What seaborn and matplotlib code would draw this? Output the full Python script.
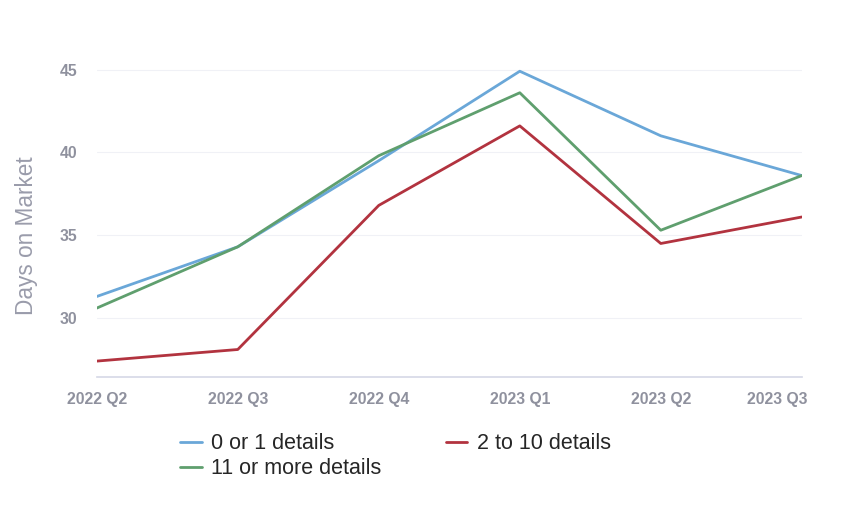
import matplotlib
matplotlib.use("Agg")
import matplotlib.pyplot as plt
import matplotlib.transforms as mtransforms
import seaborn as sns
import pandas as pd

quarters = ["2022 Q2", "2022 Q3", "2022 Q4", "2023 Q1", "2023 Q2", "2023 Q3"]
low_details = [31.3, 34.3, 39.5, 44.9, 41.0, 38.6]
mid_details = [27.4, 28.1, 36.8, 41.6, 34.5, 36.1]
high_details = [30.6, 34.3, 39.8, 43.6, 35.3, 38.6]

series_names = ["0 or 1 details", "11 or more details", "2 to 10 details"]
series_values = [low_details, high_details, mid_details]
colors = ["#6aa7d8", "#5f9f6e", "#b2333f"]

rows = []
for name, vals in zip(series_names, series_values):
    for q, v in zip(quarters, vals):
        rows.append({"quarter": q, "days": v, "group": name})
df = pd.DataFrame(rows)

sns.set_style("white")
plt.rcParams["font.family"] = ["Liberation Sans", "DejaVu Sans"]

fig = plt.figure(figsize=(8.64, 5.3), dpi=100)
ax = fig.add_axes([0.112, 0.289, 0.816, 0.611])

sns.lineplot(data=df, x="quarter", y="days", hue="group", hue_order=series_names,
             palette=colors, linewidth=2, ax=ax, legend=False, sort=False)

ax.set_xlim(0, len(quarters) - 1)
ax.set_ylim(26.45, 46)
ax.set_yticks([30, 35, 40, 45])
ax.set_xlabel("")
ax.set_ylabel("Days on Market", fontsize=16.3, color="#9a9cab")
ax.yaxis.set_label_coords(-0.084, 0.437)

tick_color = "#8f919e"
ax.tick_params(axis="x", colors="#d5d8e6", length=8, width=1, pad=3,
               labelcolor=tick_color, labelsize=11.3)
ax.tick_params(axis="y", length=0, pad=14, labelcolor=tick_color, labelsize=11.3)
for lbl in ax.get_xticklabels() + ax.get_yticklabels():
    lbl.set_fontweight("bold")
last = ax.get_xticklabels()[-1]
last.set_horizontalalignment("right")
last.set_transform(last.get_transform() + mtransforms.ScaledTranslation(6 / 100, 0, fig.dpi_scale_trans))

for s in ["top", "right", "left"]:
    ax.spines[s].set_visible(False)
ax.spines["bottom"].set_color("#d5d8e6")
ax.spines["bottom"].set_linewidth(1.2)

ax.yaxis.grid(True, color="#f0f1f6", linewidth=0.8)
ax.set_axisbelow(True)

handles = [plt.Line2D([], [], color=c, linewidth=2) for c in colors]
fig.legend(handles, series_names, loc="upper left", bbox_to_anchor=(0.196, 0.203),
           ncol=2, frameon=False, fontsize=15.5, handlelength=1.0, handletextpad=0.45,
           columnspacing=2.97, borderpad=0, labelspacing=0.2)

fig.savefig("out.png", dpi=100)
